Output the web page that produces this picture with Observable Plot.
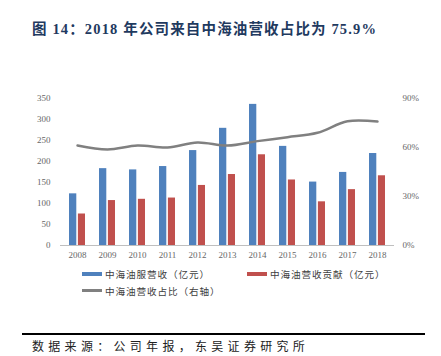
<!DOCTYPE html>
<html><head><meta charset="utf-8">
<script src="https://cdn.jsdelivr.net/npm/d3@7"></script>
<script src="https://cdn.jsdelivr.net/npm/@observablehq/plot@0.6"></script>
<style>
body{margin:0;background:#fff;width:441px;height:356px;position:relative;overflow:hidden;}
#title{position:absolute;left:32px;top:17px;font-family:"Liberation Serif","Noto Sans CJK SC",serif;font-weight:bold;font-size:14.5px;color:#1f3a5f;letter-spacing:1.15px;white-space:nowrap;}
#chart{position:absolute;left:0;top:85px;}
.lg{position:absolute;font-family:"Noto Sans CJK SC",sans-serif;font-size:9.6px;color:#404040;white-space:nowrap;line-height:12px;letter-spacing:0.9px;}
.sw{position:absolute;height:4px;width:20px;}
#rule{position:absolute;left:22px;top:333px;width:403px;height:1.5px;background:#000;}
#source{position:absolute;left:32px;top:337px;font-family:"Noto Sans CJK SC",sans-serif;font-size:12px;letter-spacing:4.3px;color:#222;white-space:nowrap;}
</style></head><body>
<div id="title">图 14：2018 年公司来自中海油营收占比为 75.9%</div>
<div id="chart"></div>
<div class="sw" style="left:82px;top:272px;background:#4f81bd"></div>
<div class="lg" style="left:105px;top:268px">中海油服营收（亿元）</div>
<div class="sw" style="left:247px;top:272px;background:#c0504d"></div>
<div class="lg" style="left:270px;top:268px">中海油营收贡献（亿元）</div>
<div class="sw" style="left:82px;top:289px;background:#808080;height:3px"></div>
<div class="lg" style="left:105px;top:285px">中海油营收占比（右轴）</div>
<div id="rule"></div>
<div id="source">数据来源：公司年报，东吴证券研究所</div>
<script>
const years = ["2008","2009","2010","2011","2012","2013","2014","2015","2016","2017","2018"];
const revenue = [123, 183, 180, 188, 226, 279, 336, 236, 151, 174, 219];
const cnoocRevenue = [75, 107, 110, 113, 143, 169, 216, 156, 104, 133, 166];
const cnoocShare = [0.612, 0.588, 0.612, 0.600, 0.631, 0.612, 0.639, 0.663, 0.690, 0.761, 0.759];
const leftTicks = [0, 50, 100, 150, 200, 250, 300, 350];
const rightTicks = [0, 0.3, 0.6, 0.9];
const leftMax = 350, rightMax = 0.9;
const toLeft = p => p * leftMax / rightMax;

const rows = years.map((y, i) => ({year: y, rev: revenue[i], cnooc: cnoocRevenue[i], share: toLeft(cnoocShare[i])}));

const chart = Plot.plot({
  width: 441, height: 180,
  marginLeft: 60, marginRight: 47, marginTop: 13, marginBottom: 20,
  style: {fontFamily: "Liberation Serif, serif", fontSize: "9px", color: "#666666", background: "transparent"},
  x: {domain: years, paddingInner: 0.474, paddingOuter: 0.237},
  y: {domain: [0, leftMax]},
  marks: [
    Plot.barY(rows, {x: "year", y: "rev", fill: "#4f81bd", insetRight: 8.7}),
    Plot.barY(rows, {x: "year", y: "cnooc", fill: "#c0504d", insetLeft: 8.9}),
    Plot.ruleY([0], {stroke: "#bfbfbf"}),
    Plot.lineY(rows, {x: "year", y: "share", stroke: "#808080", strokeWidth: 2.5, curve: "catmull-rom"}),
    Plot.axisX({tickSize: 0, tickPadding: 6, label: null}),
    Plot.axisY({ticks: leftTicks, tickSize: 0, tickPadding: 10, label: null}),
    Plot.axisY({anchor: "right", ticks: rightTicks.map(toLeft), tickSize: 0, tickPadding: 8, label: null,
      tickFormat: v => Math.round(v * rightMax / leftMax * 100) + "%"})
  ]
});
document.getElementById("chart").appendChild(chart);
</script>
</body></html>
